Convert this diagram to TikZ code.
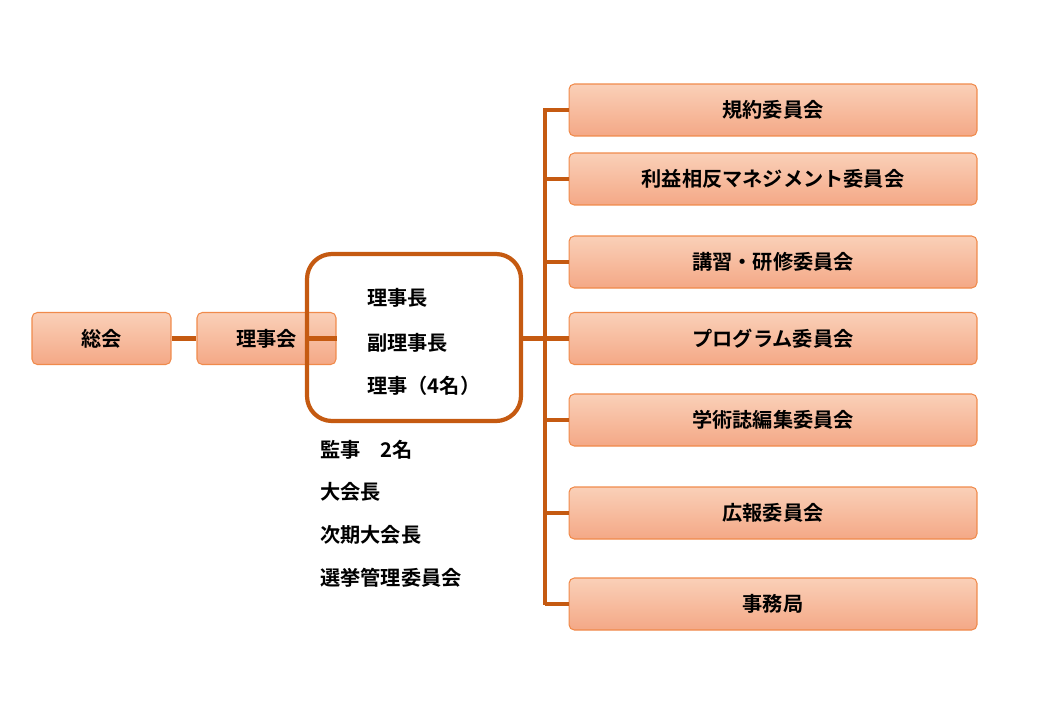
\documentclass[tikz,border=0pt]{standalone}
\usepackage{fontspec}
\setmainfont{Noto Sans CJK JP Bold}
\usetikzlibrary{positioning}
\definecolor{linebrown}{HTML}{C55A11}
\definecolor{boxedge}{HTML}{F08A4B}
\definecolor{boxtop}{HTML}{FAD0B8}
\definecolor{boxbot}{HTML}{F4A886}
\tikzset{
  orgbox/.style={draw=boxedge, line width=0.6pt, rounded corners=3pt, top color=boxtop, bottom color=boxbot,
    minimum height=1.04cm, inner sep=0pt, font=\fontsize{11.5}{13}\selectfont},
  link/.style={draw=linebrown, line width=2.4pt},
  plain/.style={anchor=west, inner sep=0pt, font=\fontsize{11.5}{13}\selectfont}
}
\begin{document}
\begin{tikzpicture}[x=0.02cm, y=-0.02cm]
  \useasboundingbox (0,0) rectangle (1040,720);

  % left side
  \node[orgbox, minimum width=2.78cm] (soukai) at (101.5,338.5) {総会};
  \node[orgbox, minimum width=2.78cm] (rijikai) at (266.5,338.5) {理事会};
  \draw[link, rounded corners=0.5cm] (307,254) rectangle (521,421);
  \coordinate (board) at (307,338.5);
  \coordinate (boardR) at (521,338.5);
  \draw[link] (soukai) -- (rijikai);
  \draw[link] (rijikai) -- (board);

  \node[plain] (chair) at (367,298) {理事長};
  \node[plain] (vice) at (367,343) {副理事長};
  \node[plain] (dir) at (367,386) {理事（4名）};

  \node[plain] (audit) at (320,450) {監事\quad 2名};
  \node[plain] (pres) at (320,492) {大会長};
  \node[plain] (next) at (320,535) {次期大会長};
  \node[plain] (elect) at (320,578) {選挙管理委員会};

  % committees
  \coordinate (spine) at (545,338.5);
  \draw[link] (boardR) -- (spine);
  \draw[link] (545,108) -- (545,605);
  \foreach \name/\y/\label in {kiyaku/110/規約委員会, rieki/179/利益相反マネジメント委員会,
      kousyu/262/講習・研修委員会, prog/338.5/プログラム委員会, gakujutsu/420/学術誌編集委員会,
      kouhou/513/広報委員会, jimu/604/事務局} {
    \node[orgbox, minimum width=8.16cm] (\name) at (773,\y) {\label};
    \draw[link] (545,\y) -- (\name.west);
  }
\end{tikzpicture}
\end{document}
